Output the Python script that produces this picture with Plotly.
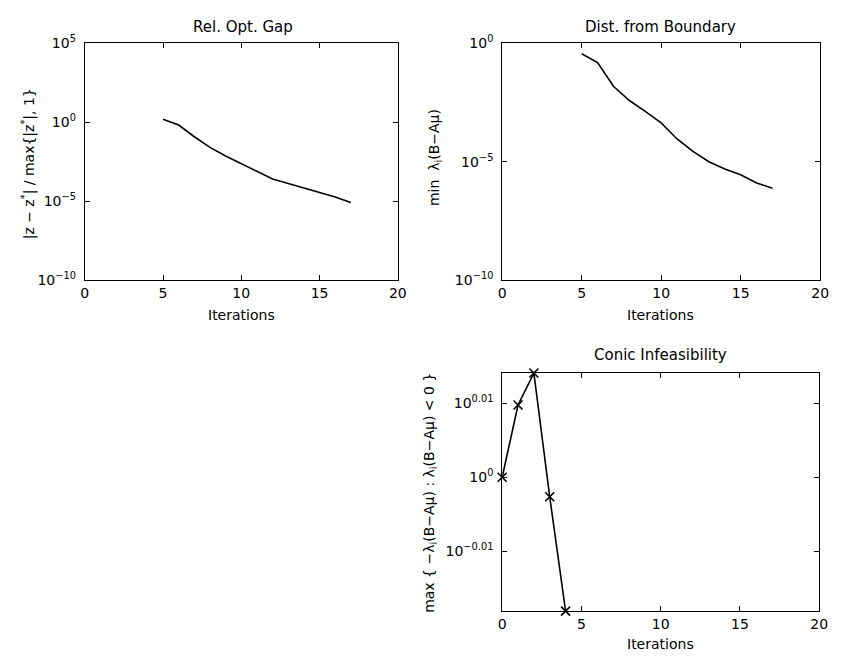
import numpy as np
import plotly.graph_objects as go

# Iteration history of the interior-point run
gap_iter = [5, 6, 7, 8, 9, 10, 11, 12, 13, 14, 15, 16, 17]
gap_log10 = [0.18, -0.18, -0.92, -1.59, -2.14, -2.61, -3.12, -3.59, -3.88, -4.16, -4.43, -4.73, -5.08]

dist_iter = [5, 6, 7, 8, 9, 10, 11, 12, 13, 14, 15, 16, 17]
dist_log10 = [-0.45, -0.82, -1.82, -2.42, -2.88, -3.36, -4.04, -4.56, -5.00, -5.30, -5.55, -5.89, -6.12]

conic_iter = [0, 1, 2, 3, 4]
conic_log10 = [0.0, 0.00978, 0.0141, -0.00264, -0.0181]

x_ticks = [0, 5, 10, 15, 20]
gap_ticks = [5, 0, -5, -10]
dist_ticks = [0, -5, -10]
conic_ticks = [0.01, 0, -0.01]

gap_vals = [10 ** v for v in gap_log10]
dist_vals = [10 ** v for v in dist_log10]
conic_vals = [10 ** v for v in conic_log10]

FONT = "DejaVu Sans, Liberation Sans, Arial, sans-serif"
W, H = 841, 663


def px_x(p):
    return p / W


def px_y(p):
    return 1 - p / H


def pow_label(e):
    s = str(e).replace("-", "\u2212")
    return f"10<sup>{s}</sup>"


fig = go.Figure()

line_style = dict(color="black", width=1.6)

fig.add_trace(go.Scatter(x=gap_iter, y=gap_vals, mode="lines", line=line_style,
                         xaxis="x", yaxis="y", showlegend=False))
fig.add_trace(go.Scatter(x=dist_iter, y=dist_vals, mode="lines", line=line_style,
                         xaxis="x2", yaxis="y2", showlegend=False))
fig.add_trace(go.Scatter(x=conic_iter, y=conic_vals, mode="lines+markers", line=line_style,
                         marker=dict(symbol="x-thin-open", size=9, color="black",
                                     line=dict(color="black", width=1.6)),
                         xaxis="x3", yaxis="y3", showlegend=False, cliponaxis=False))

axis_common = dict(
    showline=True, linecolor="black", linewidth=1, mirror="ticks",
    ticks="inside", ticklen=5, tickcolor="black", tickwidth=1,
    showgrid=False, zeroline=False,
    tickfont=dict(family=FONT, size=14, color="black"),
)


def xaxis(domain, anchor):
    return dict(axis_common, domain=domain, anchor=anchor, range=[0, 20],
                tickvals=x_ticks, ticktext=[str(t) for t in x_ticks])


def yaxis(domain, anchor, rng, ticks):
    return dict(axis_common, domain=domain, anchor=anchor, type="log", range=rng,
                ticklabelstandoff=5,
                tickvals=[10 ** t for t in ticks], ticktext=[pow_label(t) for t in ticks])


top_y = [px_y(278), px_y(34)]
bot_y = [px_y(618), px_y(373)]

# the conic panel spans the data range, padded a hair so the end markers survive
pad = 2e-5
conic_range = [min(conic_log10) - pad, max(conic_log10) + pad]

fig.update_layout(
    width=W, height=H,
    margin=dict(l=0, r=0, t=0, b=0),
    paper_bgcolor="white", plot_bgcolor="white",
    font=dict(family=FONT, size=14, color="black"),
    xaxis=xaxis([px_x(82), px_x(400)], "y"),
    yaxis=yaxis(top_y, "x", [-10, 5], gap_ticks),
    xaxis2=xaxis([px_x(506), px_x(829)], "y2"),
    yaxis2=yaxis(top_y, "x2", [-10, 0], dist_ticks),
    xaxis3=xaxis([px_x(506), px_x(828)], "y3"),
    yaxis3=yaxis(bot_y, "x3", conic_range, conic_ticks),
)


def text(x, y, s, angle=0, size=14):
    fig.add_annotation(x=px_x(x), y=px_y(y), xref="paper", yref="paper", text=s,
                       showarrow=False, textangle=angle, xanchor="center", yanchor="middle",
                       font=dict(family=FONT, size=size, color="black"))


# Panel titles
text(243, 17, "Rel. Opt. Gap", size=15)
text(667, 17, "Dist. from Boundary", size=15)
text(667, 355, "Conic Infeasibility", size=15)

# x-axis labels
text(241, 313, "Iterations")
text(667, 313, "Iterations")
text(667, 652, "Iterations")

# y-axis labels
text(25, 158, "|z \u2212 z<sup>*</sup>| / max{|z<sup>*</sup>|, 1}", angle=-90)
text(438, 152, "min  \u03bb<sub>i</sub>(B\u2212A\u03bc)", angle=-90)
text(432, 496, "max { \u2212\u03bb<sub>i</sub>(B\u2212A\u03bc) : \u03bb<sub>i</sub>(B\u2212A\u03bc) &lt; 0 }", angle=-90)

fig.write_html("out.html")
